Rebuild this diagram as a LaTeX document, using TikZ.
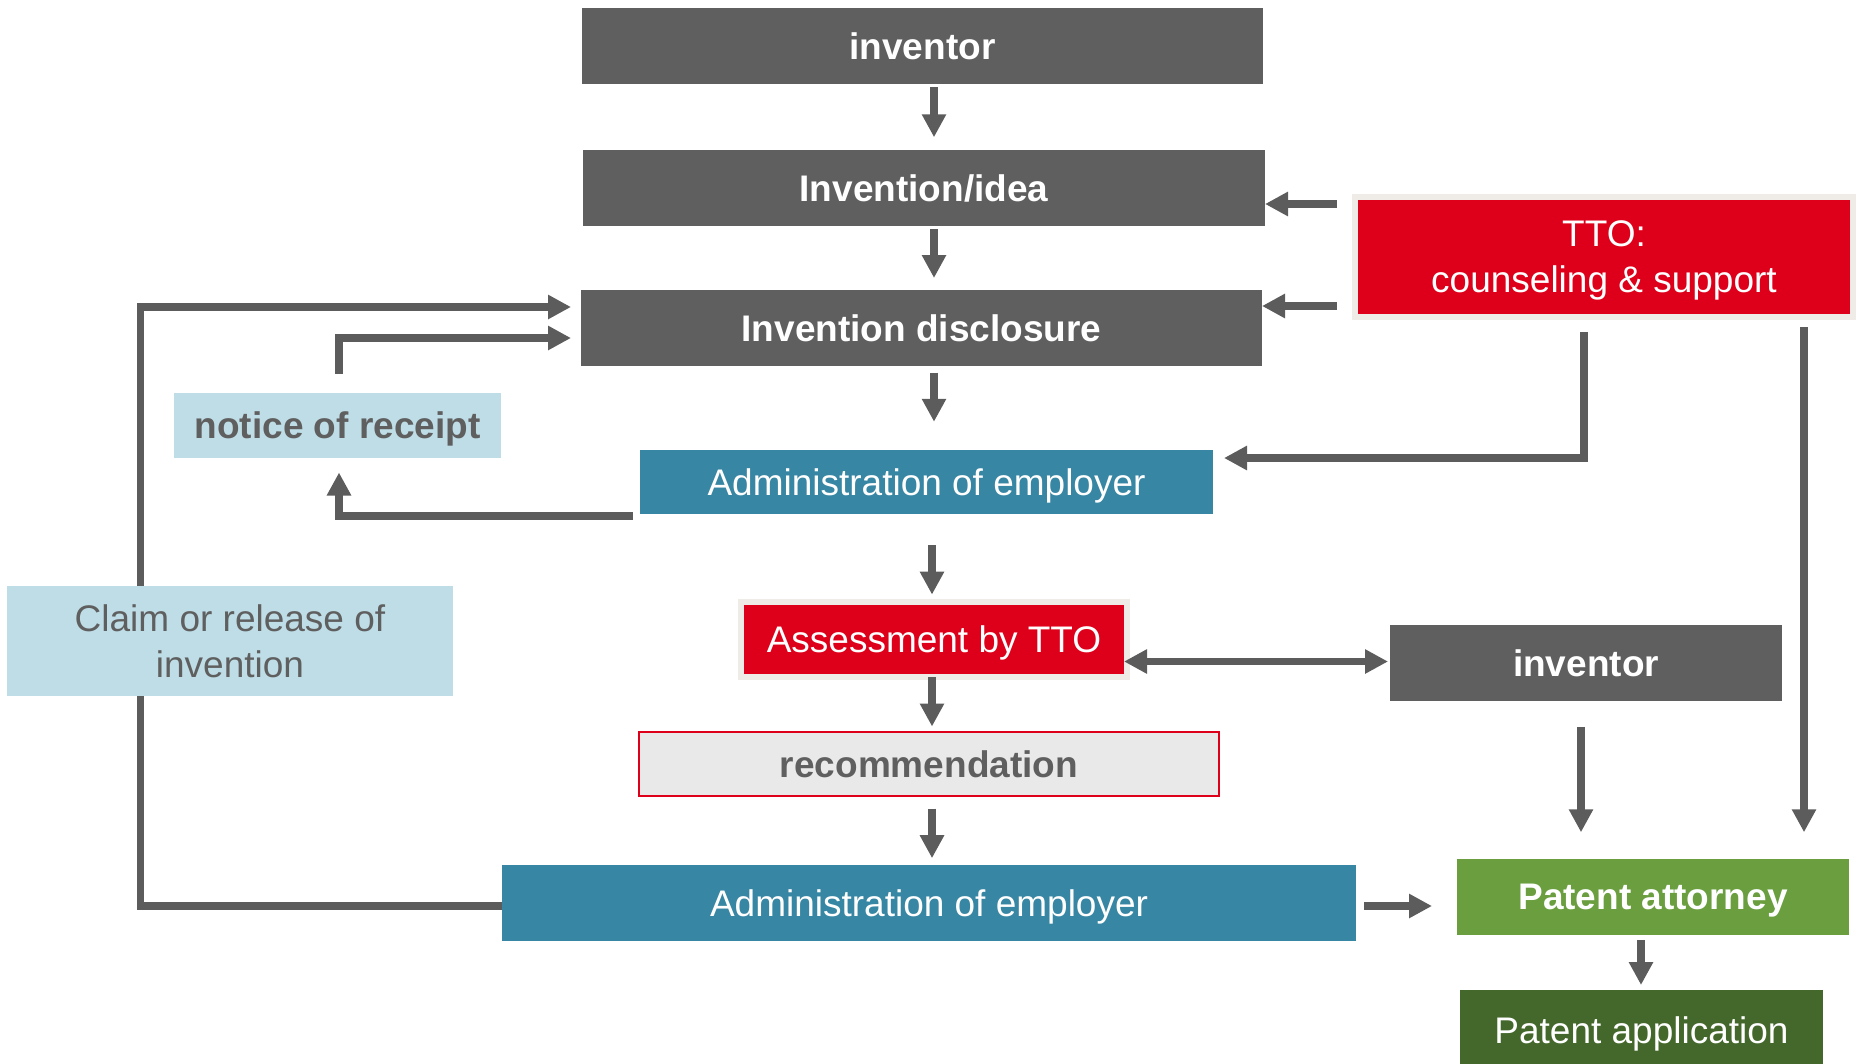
\documentclass[tikz,border=0pt]{standalone}
\usepackage{fontspec}
\setmainfont{Liberation Sans}
\usetikzlibrary{arrows.meta}

\definecolor{boxgray}{HTML}{5F5F5F}
\definecolor{arrowgray}{HTML}{5C5C5C}
\definecolor{teal}{HTML}{3786A3}
\definecolor{paleblue}{HTML}{BEDDE7}
\definecolor{ttored}{HTML}{DE001A}
\definecolor{ttoedge}{HTML}{EFECE7}
\definecolor{recfill}{HTML}{E9E9E9}
\definecolor{attgreen}{HTML}{6A9E3F}
\definecolor{appgreen}{HTML}{44682B}

\begin{document}
\begin{tikzpicture}[x=1pt,y=-1pt,
  >={Triangle[length=23pt,width=23pt]},
  box/.style={rectangle, inner sep=0pt, outer sep=0pt, anchor=center, align=center,
    text depth=0pt, font=\fontsize{37}{46}\selectfont},
  darkbox/.style={box, fill=boxgray, text=white, font=\fontsize{37}{46}\selectfont\bfseries},
  tealbox/.style={box, fill=teal, text=white},
  palebox/.style={box, fill=paleblue, text=boxgray},
  redbox/.style={box, fill=ttored, draw=ttoedge, line width=6pt, text=white},
  link/.style={draw=arrowgray, line width=7.5pt},
  arr/.style={link, ->},
]
\useasboundingbox (0,0) rectangle (1859,1063);

% main column
\node[darkbox, minimum width=681pt, minimum height=76pt] (inv) at (922.5,46) {inventor};
\node[darkbox, minimum width=682pt, minimum height=75.5pt] (idea) at (924,188) {Invention/idea};
\node[darkbox, minimum width=681pt, minimum height=76pt] (disc) at (921.5,328) {Invention disclosure};
\node[tealbox, minimum width=573pt, minimum height=64.5pt] (adm1) at (926.5,482) {Administration of employer};
\node[redbox, minimum width=386pt, minimum height=75pt] (assess) at (934,639.5) {Assessment by TTO};
\node[box, fill=recfill, draw=ttored, line width=2pt, text=boxgray,
      font=\fontsize{37}{46}\selectfont\bfseries,
      minimum width=580pt, minimum height=64pt] (rec) at (929,764) {recommendation};
\node[tealbox, minimum width=854pt, minimum height=75.6pt] (adm2) at (929,903) {Administration of employer};

% side boxes
\node[redbox, minimum width=498pt, minimum height=120.6pt] (tto) at (1604,257) {TTO:\\counseling \& support};
\node[palebox, font=\fontsize{37}{46}\selectfont\bfseries, minimum width=327pt, minimum height=65pt] (notice) at (337.5,425) {notice of receipt};
\node[darkbox, minimum width=392pt, minimum height=75.6pt] (inv2) at (1586,663) {inventor};
\node[box, fill=attgreen, text=white, font=\fontsize{37}{46}\selectfont\bfseries,
      minimum width=392pt, minimum height=75.5pt] (att) at (1653,897) {Patent attorney};
\node[box, fill=appgreen, text=white, minimum width=363pt, minimum height=80pt] (app) at (1641.5,1030) {Patent application};

% guide coordinates for the connector runs
\coordinate (colA) at (934,0);
\coordinate (colB) at (932,0);
\coordinate (colT) at (1584,0);
\coordinate (colL) at (140.6,0);
\coordinate (colN) at (339,0);
\coordinate (colI) at (1581,0);
\coordinate (colR) at (1804,0);
\coordinate (colP) at (1641,0);
\coordinate (rowA) at (0,204);
\coordinate (rowB) at (0,306);
\coordinate (rowC) at (0,458);
\coordinate (rowD) at (0,906);
\coordinate (rowE) at (0,307);
\coordinate (rowF) at (0,338);
\coordinate (rowG) at (0,516);
\coordinate (rowH) at (0,661.5);

% claim / release loop back to the disclosure
\draw[arr, shorten >=10pt] (adm2.west |- rowD) -- (colL |- rowD) -- (colL |- rowE) -- (disc.west |- rowE);
\node[palebox, minimum width=446pt, minimum height=109.5pt] (claim) at (230,641) {Claim or release of\\invention};

% main flow
\draw[arr, shorten <=3pt, shorten >=13pt] (inv.south -| colA) -- (idea.north -| colA);
\draw[arr, shorten <=3pt, shorten >=12pt] (idea.south -| colA) -- (disc.north -| colA);
\draw[arr, shorten <=6.6pt, shorten >=28pt] (disc.south -| colA) -- (adm1.north -| colA);
\draw[arr, shorten <=31pt, shorten >=7.4pt] (adm1.south -| colB) -- (assess.north -| colB);
\draw[arr, shorten >=5.5pt] (assess.south -| colB) -- (rec.north -| colB);
\draw[arr, shorten <=12.7pt, shorten >=7pt] (rec.south -| colB) -- (adm2.north -| colB);

% TTO support
\draw[arr, shorten <=18pt] (tto.west |- rowA) -- (idea.east |- rowA);
\draw[arr, shorten <=18pt] (tto.west |- rowB) -- (disc.east |- rowB);
\draw[arr, shorten <=14.5pt, shorten >=11pt] (tto.south -| colT) -- (colT |- rowC) -- (adm1.east |- rowC);
\draw[arr, shorten <=10pt, shorten >=27pt] (tto.south -| colR) -- (att.north -| colR);

% notice of receipt
\draw[arr, shorten <=7pt, shorten >=15pt] (adm1.west |- rowG) -- (colN |- rowG) -- (notice.south -| colN);
\draw[arr, shorten <=19pt, shorten >=10pt] (notice.north -| colN) -- (colN |- rowF) -- (disc.west |- rowF);

% inventor consultation and patent route
\draw[link, <->, shorten <=-3pt, shorten >=2pt] (assess.east |- rowH) -- (inv2.west |- rowH);
\draw[arr, shorten <=26pt, shorten >=27pt] (inv2.south -| colI) -- (att.north -| colI);
\draw[arr, shorten <=8pt, shorten >=25pt] (adm2.east |- rowD) -- (att.west |- rowD);
\draw[arr, shorten <=5pt, shorten >=5pt] (att.south -| colP) -- (app.north -| colP);
\end{tikzpicture}
\end{document}
